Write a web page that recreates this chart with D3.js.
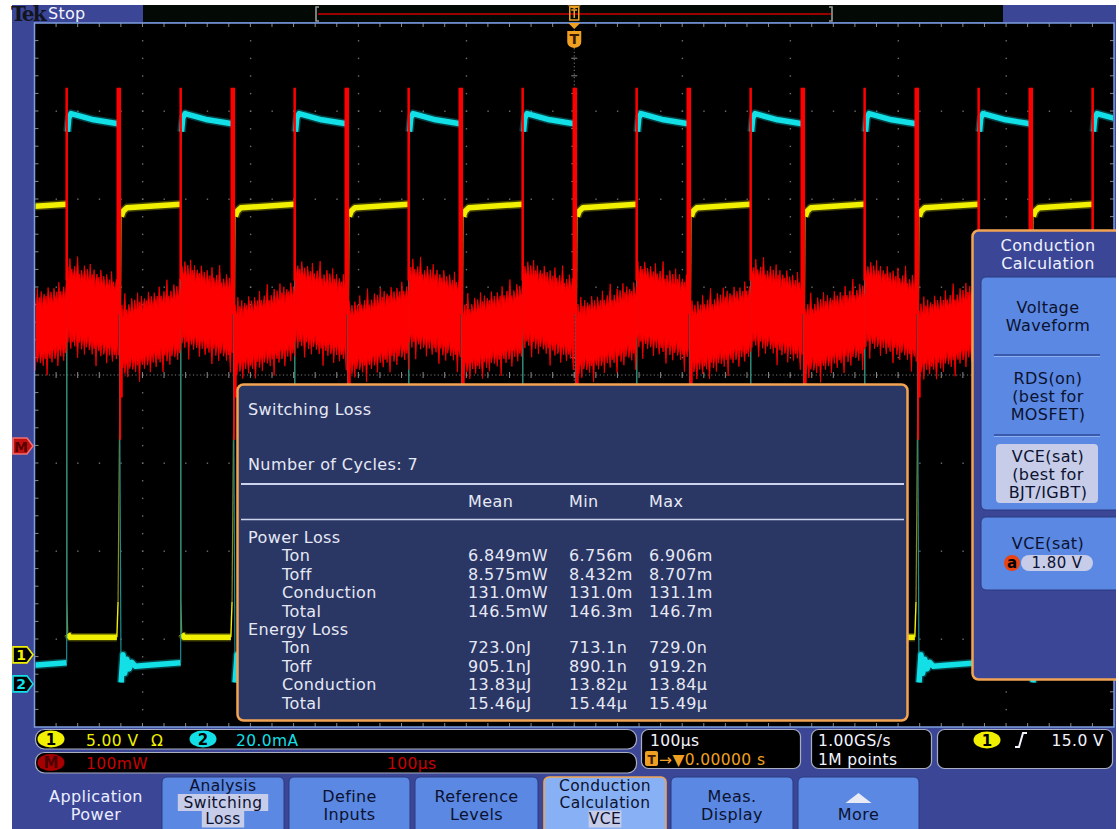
<!DOCTYPE html>
<html><head><meta charset="utf-8">
<script src="https://cdn.jsdelivr.net/npm/d3@7"></script>
<style>
html,body{margin:0;padding:0;background:#fff;}
svg{display:block;}
</style></head><body>
<svg id="c" width="1119" height="829"></svg>
<script>
// ---------------- DATA ----------------
const timeDomainUs = [-500, 500];          // 100 µs/div, 10 divisions
const divisionsX = 10, divisionsY = 8;
const onEdgesUs  = [-470.2, -364.6, -259.0, -153.4, -47.8, 57.8, 163.4, 269.0, 374.6, 480.2];
const offEdgesUs = [-528.0, -422.4, -316.8, -211.2, -105.6, 0, 105.6, 211.2, 316.8, 422.4, 528.0];

// channel settings: scale per div and ground offset (divisions from centre)
const ch1VoltsPerDiv = 5.0,  ch1OffsetDiv = -3.18;
const ch2mAPerDiv    = 20.0, ch2OffsetDiv = -3.51;
const mathmWPerDiv   = 100,  mathOffsetDiv = -0.807;

// Ch1 (V) level profiles, [µs after segment start, volts]
const ch1OnPoints  = [[0.2, 3.2], [1.0, 1.2], [3, 1.0], [46.5, 1.0], [47.6, 3.0]];
const ch1OffPoints = [[2.8, 24.9], [4.5, 25.2], [8, 25.4], [57.8, 25.6]];
// Ch2 (mA) level profiles
const ch2OnPoints  = [[0, 121.0], [0.8, 125.5], [2.0, 128.6], [4.0, 129.6], [10, 129.2], [25, 128.2], [47.8, 127.3]];
const ch2OffPoints = [[2.6, 0.3], [4.4, 6.6], [6.0, 2.4], [8.0, 5.6], [10, 3.4], [12.5, 4.9], [16, 4.0], [30, 4.3], [57.8, 4.8]];
// Math (mW) band envelope: [start, end]
const mathOnTop = [198, 180], mathOnBottom = [126, 108];
const mathOffTop = [151, 173], mathOffBottom = [92, 112];
const mathSpikeTop = 407, mathSpikeBottom = 7;
// edge roughness (mW)
const mathTopJitter = [3,-4,8,0,-7,11,2,-3,6,-9,16,-1,5,-5,1,9,-6,4,21,-2,2,-8,7,0,-4,13,3,-7,10,1,-3,17,-5,6,-1,12,-9,2,8,-2,5,-6,14];
const mathBottomJitter = [2,7,-3,12,0,-5,9,4,-6,18,1,-2,8,-7,3,14,-4,6,0,10,-8,5,22,-1,4,-6,11,2,-3,16,-5,7,1,-9,9,3,-2,13,-4,6,0,25,-3];

// measurement table
const measTitle = "Switching Loss";
const measCycles = "Number of Cycles: 7";
const measHeaders = ["Mean", "Min", "Max"];
const measRowLabels = ["Ton", "Toff", "Conduction", "Total"];
const powerMean = ["6.849mW", "8.575mW", "131.0mW", "146.5mW"];
const powerMin  = ["6.756m", "8.432m", "131.0m", "146.3m"];
const powerMax  = ["6.906m", "8.707m", "131.1m", "146.7m"];
const energyMean = ["723.0nJ", "905.1nJ", "13.83µJ", "15.46µJ"];
const energyMin  = ["713.1n", "890.1n", "13.82µ", "15.44µ"];
const energyMax  = ["729.0n", "919.2n", "13.84µ", "15.49µ"];

// side menu
const sideTitle = ["Conduction", "Calculation"];
const sideOpt1 = ["Voltage", "Waveform"];
const sideOpt2 = ["RDS(on)", "(best for", "MOSFET)"];
const sideOpt3 = ["VCE(sat)", "(best for", "BJT/IGBT)"];
const sideParam = "VCE(sat)", sideParamValue = "1.80 V";

// status readouts
const ch1Readout = "5.00 V", ch2Readout = "20.0mA", mathReadout = "100mW", mathTime = "100µs";
const timebase = "100µs", trigPos = "→▼0.00000 s";
const sampleRate = "1.00GS/s", recordLen = "1M points";
const trigLevel = "15.0 V";

// bottom menu
const bottomButtons = [
  {lines: ["Application", "Power"], cx: 96, kind: "plain"},
  {lines: ["Analysis", "Switching", "Loss"], x0: 162, x1: 284, kind: "btn", hl: [1, 2]},
  {lines: ["Define", "Inputs"], x0: 289, x1: 410, kind: "btn"},
  {lines: ["Reference", "Levels"], x0: 415, x1: 538, kind: "btn"},
  {lines: ["Conduction", "Calculation", "VCE"], x0: 544, x1: 666, kind: "sel", hl: [2]},
  {lines: ["Meas.", "Display"], x0: 671, x1: 793, kind: "btn"},
  {lines: ["More"], x0: 798, x1: 919, kind: "more"}
];

// ---------------- STYLE ----------------
const uiFont = '"DejaVu Sans", sans-serif';
const BLUE = "#3b4796", BTN = "#5a88e2", HL = "#c7cce8", ORANGE = "#f2a452";
const YEL = "#f0f000", CYAN = "#12dfe6", RED = "#ff0000";

const svg = d3.select("#c");
const grat = {x0: 34.5, x1: 1114, y0: 23, y1: 727};

const x = d3.scaleLinear().domain(timeDomainUs).range([grat.x0, grat.x1]);
const yDiv = d3.scaleLinear().domain([-divisionsY/2, divisionsY/2]).range([grat.y1, grat.y0]);
const y1 = d3.scaleLinear().domain([0, ch1VoltsPerDiv]).range([yDiv(ch1OffsetDiv), yDiv(ch1OffsetDiv + 1)]);
const y2 = d3.scaleLinear().domain([0, ch2mAPerDiv]).range([yDiv(ch2OffsetDiv), yDiv(ch2OffsetDiv + 1)]);
const yM = d3.scaleLinear().domain([0, mathmWPerDiv]).range([yDiv(mathOffsetDiv), yDiv(mathOffsetDiv + 1)]);

function addText(parent, px, py, str, o = {}) {
  return parent.append("text").attr("x", px).attr("y", py).text(str)
    .attr("fill", o.fill || "#e6e9f5")
    .attr("font-size", o.size || 16)
    .attr("text-anchor", o.anchor || "start")
    .attr("letter-spacing", o.ls ?? 0.4)
    .attr("font-weight", o.weight || "normal")
    .attr("font-family", o.family || uiFont);
}

// ---------------- BACKGROUND ----------------
svg.append("clipPath").attr("id", "scr").append("rect").attr("x", 12).attr("y", 5).attr("width", 1104).attr("height", 824);
const root = svg.append("g").attr("clip-path", "url(#scr)");
root.append("rect").attr("x", 12).attr("y", 5).attr("width", 1104).attr("height", 824).attr("fill", BLUE);
root.append("rect").attr("x", grat.x0).attr("y", grat.y0).attr("width", grat.x1 - grat.x0).attr("height", grat.y1 - grat.y0).attr("fill", "#000");

// ---------------- GRATICULE ----------------
const gridG = root.append("g");
const tDiv = (timeDomainUs[1] - timeDomainUs[0]) / divisionsX;
const majorT = d3.range(1, divisionsX).map(i => timeDomainUs[0] + i * tDiv);
const majorV = d3.range(1, divisionsY).map(i => -divisionsY/2 + i);
const minorT = d3.range(1, divisionsX * 5).map(i => timeDomainUs[0] + i * tDiv / 5);
const minorV = d3.range(1, divisionsY * 5).map(i => -divisionsY/2 + i / 5);

majorT.filter(t => t !== 0).forEach(t => {
  gridG.selectAll(null).data(minorV).enter().append("rect")
    .attr("x", x(t) - 0.5).attr("y", d => yDiv(d) - 0.5).attr("width", 1.4).attr("height", 1.4).attr("fill", "#6e6e6e");
});
majorV.filter(v => v !== 0).forEach(v => {
  gridG.selectAll(null).data(minorT).enter().append("rect")
    .attr("x", d => x(d) - 0.5).attr("y", yDiv(v) - 0.5).attr("width", 1.4).attr("height", 1.4).attr("fill", "#6e6e6e");
});
gridG.append("line").attr("x1", grat.x0).attr("x2", grat.x1).attr("y1", yDiv(0)).attr("y2", yDiv(0))
  .attr("stroke", "#7a7a7a").attr("stroke-dasharray", "1.2 2.4");
gridG.append("line").attr("x1", x(0)).attr("x2", x(0)).attr("y1", grat.y0).attr("y2", grat.y1)
  .attr("stroke", "#7a7a7a").attr("stroke-dasharray", "1.2 2.4");
gridG.selectAll(null).data(minorT).enter().append("line")
  .attr("x1", d => x(d)).attr("x2", d => x(d)).attr("y1", yDiv(0) - 3).attr("y2", yDiv(0) + 3).attr("stroke", "#8a8a8a");
gridG.selectAll(null).data(minorV).enter().append("line")
  .attr("x1", x(0) - 3).attr("x2", x(0) + 3).attr("y1", d => yDiv(d)).attr("y2", d => yDiv(d)).attr("stroke", "#8a8a8a");
[grat.y0, grat.y1].forEach((ey, k) => {
  gridG.selectAll(null).data(minorT).enter().append("line")
    .attr("x1", d => x(d)).attr("x2", d => x(d)).attr("y1", ey).attr("y2", ey + (k ? -4 : 4)).attr("stroke", "#8a8a8a");
});
[grat.x0, grat.x1].forEach((ex, k) => {
  gridG.selectAll(null).data(minorV).enter().append("line")
    .attr("x1", ex).attr("x2", ex + (k ? -4 : 4)).attr("y1", d => yDiv(d)).attr("y2", d => yDiv(d)).attr("stroke", "#8a8a8a");
});

// ---------------- WAVEFORMS ----------------
svg.append("clipPath").attr("id", "gclip").append("rect")
  .attr("x", grat.x0 + 1).attr("y", grat.y0 + 1).attr("width", grat.x1 - grat.x0 - 2).attr("height", grat.y1 - grat.y0 - 2);
const wave = root.append("g").attr("clip-path", "url(#gclip)");

const edges = onEdgesUs.map(t => ({t, state: "on"})).concat(offEdgesUs.map(t => ({t, state: "off"})))
  .sort((a, b) => a.t - b.t);
const segments = d3.pairs(edges).map(([a, b]) => ({start: a.t, end: b.t, state: a.state}));
const line = d3.line();

function drawTrace(profiles, yScale, color, dimColor, w) {
  const g = wave.append("g");
  let prevEnd = null;
  segments.forEach(seg => {
    const p = profiles[seg.state];
    const P = p.points.filter(d => d[0] <= seg.end - seg.start + 0.01);
    const toXY = ([dt, v]) => [x(seg.start + dt), yScale(v)];
    const thin = P.filter(d => d[0] <= p.thickFrom).map(toXY);
    if (prevEnd) thin.unshift(prevEnd);
    if (thin.length > 1) g.append("path").attr("d", line(thin)).attr("fill", "none").attr("stroke", dimColor).attr("stroke-width", 1.2);
    const thick = P.filter(d => d[0] >= p.thickFrom && d[0] <= p.thickTo).map(toXY);
    const tail = P.filter(d => d[0] >= p.thickTo).map(toXY);
    if (tail.length > 1) g.append("path").attr("d", line(tail)).attr("fill", "none").attr("stroke", color).attr("stroke-width", 1.4);
    g.append("path").attr("d", line(thick)).attr("fill", "none").attr("stroke", color).attr("stroke-width", w + 3).attr("stroke-opacity", 0.28).attr("stroke-linejoin", "round");
    g.append("path").attr("d", line(thick)).attr("fill", "none").attr("stroke", color).attr("stroke-width", w).attr("stroke-linejoin", "round");
    prevEnd = toXY(P[P.length - 1]);
  });
}

drawTrace({on: {points: ch1OnPoints, thickFrom: 1.0, thickTo: 46.5}, off: {points: ch1OffPoints, thickFrom: 2.8, thickTo: 99}}, y1, YEL, "#8a8a18", 5.5);
drawTrace({on: {points: ch2OnPoints, thickFrom: 0.8, thickTo: 99}, off: {points: ch2OffPoints, thickFrom: 2.6, thickTo: 99}}, y2, CYAN, "#1a8c90", 5.5);

// math (power) band
const redG = wave.append("g");
const mathBands = {on: {top: mathOnTop, bottom: mathOnBottom, lead: 0.3}, off: {top: mathOffTop, bottom: mathOffBottom, lead: 2.5}};
segments.forEach((seg, si) => {
  const b = mathBands[seg.state];
  const t0 = seg.start + b.lead, t1 = seg.end;
  const n = Math.max(2, Math.round((t1 - t0) / 0.9));
  const top = [], bot = [];
  for (let i = 0; i <= n; i++) {
    const f = i / n, t = t0 + f * (t1 - t0);
    const jt = mathTopJitter[(si * 7 + i) % mathTopJitter.length];
    const jb = mathBottomJitter[(si * 11 + i) % mathBottomJitter.length];
    top.push([x(t), yM(b.top[0] + f * (b.top[1] - b.top[0]) + jt)]);
    bot.push([x(t), yM(b.bottom[0] + f * (b.bottom[1] - b.bottom[0]) - jb)]);
  }
  redG.append("path").attr("d", line(top.concat(bot.reverse())) + "Z").attr("fill", RED).attr("stroke", RED).attr("stroke-width", 0.8);
});
onEdgesUs.forEach(t => {
  redG.append("line").attr("x1", x(t)).attr("x2", x(t)).attr("y1", yM(mathSpikeTop)).attr("y2", yM(mathOnTop[0] - 10))
    .attr("stroke", RED).attr("stroke-width", 2.5);
});
offEdgesUs.forEach(t => {
  redG.append("line").attr("x1", x(t)).attr("x2", x(t)).attr("y1", yM(mathSpikeTop)).attr("y2", yM(150))
    .attr("stroke", RED).attr("stroke-width", 3.5);
  redG.append("line").attr("x1", x(t + 1.8)).attr("x2", x(t + 1.8)).attr("y1", yM(mathSpikeTop)).attr("y2", yM(mathSpikeBottom))
    .attr("stroke", RED).attr("stroke-width", 1.8);
  redG.append("line").attr("x1", x(t + 3.2)).attr("x2", x(t + 3.2)).attr("y1", yM(130)).attr("y2", yM(55))
    .attr("stroke", RED).attr("stroke-width", 2);
});

root.append("rect").attr("x", grat.x0).attr("y", grat.y0).attr("width", grat.x1 - grat.x0).attr("height", grat.y1 - grat.y0)
  .attr("fill", "none").attr("stroke", "#7d9ee0").attr("stroke-width", 1.5);

// ---------------- TOP BAR ----------------
root.append("rect").attr("x", 143).attr("y", 5).attr("width", 860).attr("height", 17).attr("fill", "#030905");
root.append("line").attr("x1", 318).attr("x2", 831).attr("y1", 14).attr("y2", 14).attr("stroke", "#9a0000").attr("stroke-width", 2);
[316, 832].forEach((bx, k) => {
  root.append("path").attr("d", `M${bx + (k ? -3 : 3)},7 L${bx},7 L${bx},21 L${bx + (k ? -3 : 3)},21`)
    .attr("fill", "none").attr("stroke", "#9a9a9a").attr("stroke-width", 1.6);
});
addText(svg, 11, 21, "Tek", {fill: "#121420", size: 20, weight: "bold", family: '"DejaVu Serif", serif', ls: -1.8});
addText(root, 48, 19, "Stop", {fill: "#f4f4ff", size: 16, ls: 0.3});
const tx = x(0);
root.append("rect").attr("x", tx - 4.5).attr("y", 7).attr("width", 9).attr("height", 13).attr("fill", "none").attr("stroke", "#f0a020").attr("stroke-width", 1.5);
root.append("path").attr("d", `M${tx - 3},10 H${tx + 3} M${tx},10 V18`).attr("stroke", "#f0a020").attr("stroke-width", 1.5);
root.append("path").attr("d", `M${tx - 7},5.5 H${tx + 7} L${tx},9 Z`).attr("fill", "#f0a020");
root.append("path").attr("d", `M${tx - 6},23 H${tx + 6} L${tx},29 Z`).attr("fill", "#f0a020");
root.append("path").attr("d", `M${tx - 7},31 H${tx + 7} V42 Q${tx + 7},47 ${tx},48 Q${tx - 7},47 ${tx - 7},42 Z`).attr("fill", "#f0a020");
addText(root, tx, 44, "T", {fill: "#3a1a00", size: 14, weight: "bold", anchor: "middle", ls: 0});

// ---------------- LEFT MARKERS ----------------
function marker(my, fill, stroke, label, tcol) {
  root.append("path").attr("d", `M13,${my - 8} H27 L33,${my} L27,${my + 8} H13 Z`)
    .attr("fill", fill).attr("stroke", stroke).attr("stroke-width", 1.6);
  addText(root, 21, my + 5.5, label, {fill: tcol, size: 14, anchor: "middle", ls: 0, weight: "bold"});
}
marker(yDiv(mathOffsetDiv), "#c01010", "#f07070", "M", "#5a0000");
marker(yDiv(ch1OffsetDiv), "#000", YEL, "1", YEL);
marker(yDiv(ch2OffsetDiv), "#000", CYAN, "2", CYAN);

// ---------------- MEASUREMENT BOX ----------------
const mb = root.append("g");
mb.append("rect").attr("x", 237.5).attr("y", 384.5).attr("width", 670).attr("height", 336).attr("rx", 6)
  .attr("fill", "#2a3664").attr("stroke", ORANGE).attr("stroke-width", 2.5);
addText(mb, 248, 415, measTitle);
addText(mb, 248, 470, measCycles);
mb.append("line").attr("x1", 241).attr("x2", 904).attr("y1", 484).attr("y2", 484).attr("stroke", "#cdd3ec").attr("stroke-width", 2);
mb.append("line").attr("x1", 241).attr("x2", 904).attr("y1", 519.5).attr("y2", 519.5).attr("stroke", "#cdd3ec").attr("stroke-width", 1.5);
const colX = [468, 569, 649];
measHeaders.forEach((h, i) => addText(mb, colX[i], 507, h));
const rowStep = 18.4;
addText(mb, 248, 543, "Power Loss");
measRowLabels.forEach((lab, i) => {
  const yy = 543 + rowStep * (i + 1);
  addText(mb, 282, yy, lab);
  addText(mb, colX[0], yy, powerMean[i]);
  addText(mb, colX[1], yy, powerMin[i]);
  addText(mb, colX[2], yy, powerMax[i]);
});
addText(mb, 248, 543 + rowStep * 5, "Energy Loss");
measRowLabels.forEach((lab, i) => {
  const yy = 543 + rowStep * (i + 6);
  addText(mb, 282, yy, lab);
  addText(mb, colX[0], yy, energyMean[i]);
  addText(mb, colX[1], yy, energyMin[i]);
  addText(mb, colX[2], yy, energyMax[i]);
});

// ---------------- SIDE MENU ----------------
const sm = root.append("g");
sm.append("rect").attr("x", 972.5).attr("y", 230.5).attr("width", 160).attr("height", 449).attr("rx", 6)
  .attr("fill", BLUE).attr("stroke", ORANGE).attr("stroke-width", 2.5);
const scx = 1048;
sideTitle.forEach((s, i) => addText(sm, scx, 251 + i * 18, s, {anchor: "middle", fill: "#f0f2ff"}));
sm.append("rect").attr("x", 981).attr("y", 277).attr("width", 150).attr("height", 233).attr("rx", 5).attr("fill", BTN)
  .attr("stroke", "#2a3a80").attr("stroke-width", 1);
const dark = "#0c1230";
sideOpt1.forEach((s, i) => addText(sm, scx, 313 + i * 18, s, {anchor: "middle", fill: dark}));
[355, 435].forEach(sy => {
  sm.append("line").attr("x1", 994).attr("x2", 1100).attr("y1", sy).attr("y2", sy).attr("stroke", "#2f4a9a").attr("stroke-width", 1.5);
  sm.append("line").attr("x1", 994).attr("x2", 1100).attr("y1", sy + 1.5).attr("y2", sy + 1.5).attr("stroke", "#8fb0f0").attr("stroke-width", 1);
});
sideOpt2.forEach((s, i) => addText(sm, scx, 384 + i * 18, s, {anchor: "middle", fill: dark}));
sm.append("rect").attr("x", 996).attr("y", 444).attr("width", 102).attr("height", 59).attr("rx", 4).attr("fill", HL);
sideOpt3.forEach((s, i) => addText(sm, scx, 462 + i * 18, s, {anchor: "middle", fill: dark}));
sm.append("rect").attr("x", 981).attr("y", 517).attr("width", 150).attr("height", 73).attr("rx", 5).attr("fill", BTN)
  .attr("stroke", "#2a3a80").attr("stroke-width", 1);
addText(sm, scx, 549, sideParam, {anchor: "middle", fill: dark});
sm.append("circle").attr("cx", 1012).attr("cy", 563).attr("r", 8).attr("fill", "#ea4412");
addText(sm, 1012, 568, "a", {anchor: "middle", fill: "#000", size: 15, ls: 0, weight: "bold"});
sm.append("rect").attr("x", 1021).attr("y", 555).attr("width", 72).attr("height", 16).attr("rx", 8).attr("fill", HL);
addText(sm, 1057, 568, sideParamValue, {anchor: "middle", fill: dark, size: 15});

// ---------------- STATUS BAR ----------------
const st = root.append("g");
function box(bx, by, bw, bh, r) {
  st.append("rect").attr("x", bx).attr("y", by).attr("width", bw).attr("height", bh).attr("rx", r)
    .attr("fill", "#000").attr("stroke", "#a9aec0").attr("stroke-width", 1.2);
}
box(35.5, 729.5, 601, 19.5, 9);
box(35.5, 752.5, 601, 20.5, 9);
function pill(cx, cy, fill, label, tcol) {
  st.append("ellipse").attr("cx", cx).attr("cy", cy).attr("rx", 13.5).attr("ry", 8.5).attr("fill", fill);
  addText(st, cx, cy + 5.5, label, {anchor: "middle", fill: tcol, size: 15, ls: 0, weight: "bold"});
}
pill(51, 739, YEL, "1", "#000");
addText(st, 86, 745.5, ch1Readout, {fill: YEL, size: 15.5});
addText(st, 151, 745.5, "Ω", {fill: YEL, size: 15.5});
pill(203, 739, CYAN, "2", "#000");
addText(st, 236, 745.5, ch2Readout, {fill: CYAN, size: 15.5});
pill(51, 762.5, "#a80000", "M", "#4a0000");
addText(st, 86, 768.5, mathReadout, {fill: "#c80000", size: 15.5});
addText(st, 387, 768.5, mathTime, {fill: "#c80000", size: 15.5});

box(641.5, 729.5, 159, 39, 7);
addText(st, 650, 746, timebase, {fill: "#f4f4ff", size: 15.5});
st.append("rect").attr("x", 645).attr("y", 751).attr("width", 13).attr("height", 15).attr("rx", 2).attr("fill", "#f0a020");
addText(st, 651.5, 764, "T", {fill: "#3a1a00", size: 12, anchor: "middle", ls: 0, weight: "bold"});
addText(st, 659, 765, trigPos, {fill: "#f0a020", size: 15.5});
box(811.5, 729.5, 120, 39, 7);
addText(st, 818, 746, sampleRate, {fill: "#f4f4ff", size: 15.5});
addText(st, 818, 765, recordLen, {fill: "#f4f4ff", size: 15.5});
box(937.5, 729.5, 175, 39, 7);
pill(987, 740, YEL, "1", "#000");
st.append("path").attr("d", "M1015,747 H1019 L1023,733 H1027").attr("fill", "none").attr("stroke", "#f4f4ff").attr("stroke-width", 2);
addText(st, 1104, 746, trigLevel, {fill: "#f4f4ff", size: 15.5, anchor: "end"});

// ---------------- BOTTOM MENU ----------------
const bm = root.append("g");
bottomButtons.forEach(b => {
  if (b.kind === "plain") {
    b.lines.forEach((s, i) => addText(bm, b.cx, 802 + i * 18, s, {anchor: "middle", fill: "#eceeff"}));
    return;
  }
  const cx = (b.x0 + b.x1) / 2;
  bm.append("rect").attr("x", b.x0).attr("y", 777).attr("width", b.x1 - b.x0).attr("height", 60).attr("rx", 5)
    .attr("fill", b.kind === "sel" ? "#88b0f4" : BTN)
    .attr("stroke", b.kind === "sel" ? ORANGE : "#2a3a80").attr("stroke-width", b.kind === "sel" ? 1.6 : 1);
  if (b.kind === "more") {
    bm.append("path").attr("d", `M${cx - 13},803 H${cx + 13} L${cx},793 Z`).attr("fill", "#e8eaf4");
    addText(bm, cx, 820, b.lines[0], {anchor: "middle", fill: dark});
    return;
  }
  const three = b.lines.length === 3;
  const y0 = three ? 791 : 802, step = three ? 16.5 : 18;
  b.lines.forEach((s, i) => {
    const yy = y0 + i * step;
    if (b.hl && b.hl.includes(i)) {
      const w = s.length * 9.6 + 4;
      bm.append("rect").attr("x", cx - w / 2).attr("y", yy - 13.5).attr("width", w).attr("height", 17).attr("fill", HL);
    }
    addText(bm, cx, yy, s, {anchor: "middle", fill: dark, size: three ? 15.5 : 16});
  });
});
</script>
</body></html>
